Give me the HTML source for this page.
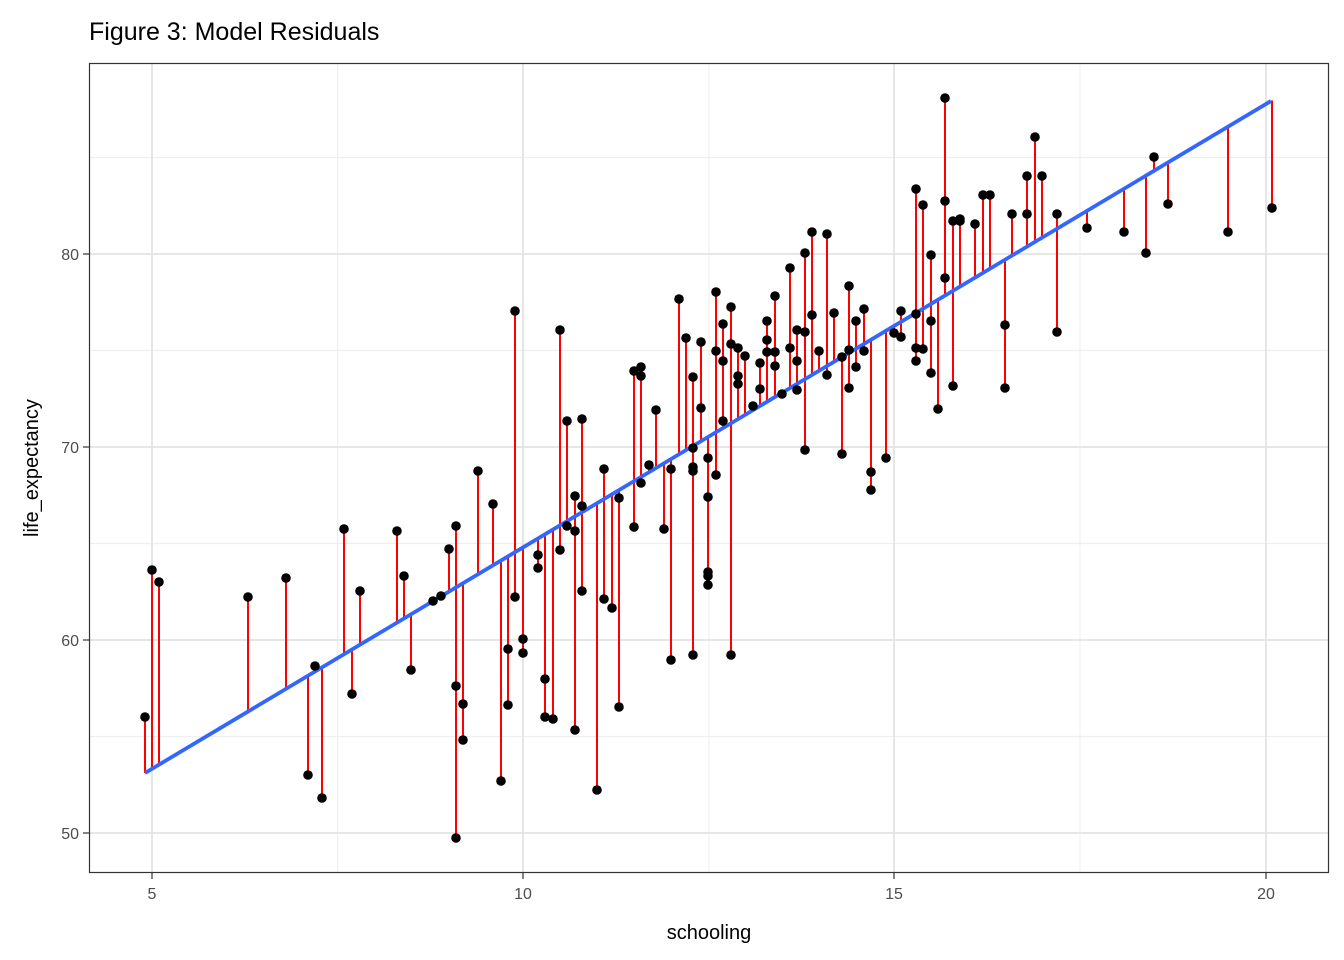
<!DOCTYPE html>
<html><head><meta charset="utf-8">
<style>
html,body{margin:0;padding:0;background:#fff;}
svg{display:block;font-family:"Liberation Sans",Arial,sans-serif;}
</style></head>
<body>
<svg id="s" width="1344" height="960" viewBox="0 0 1344 960" xmlns="http://www.w3.org/2000/svg">
<rect width="1344" height="960" fill="#fff"/>
<text x="89" y="40" font-size="25" fill="#000">Figure 3: Model Residuals</text>
<g id="grid"></g>
<g id="res"></g>
<line x1="145" y1="773" x2="1271" y2="101" stroke="#3366FF" stroke-width="3.8"/>
<g id="pts"></g>
<rect x="89.5" y="63.5" width="1239" height="809" fill="none" stroke="#333" stroke-width="1.2"/>
<g id="ticks" stroke="#333" stroke-width="1.2"></g>
<g font-size="16" fill="#4d4d4d">
<text x="152" y="899" text-anchor="middle">5</text>
<text x="523" y="899" text-anchor="middle">10</text>
<text x="894" y="899" text-anchor="middle">15</text>
<text x="1266" y="899" text-anchor="middle">20</text>
<text x="79" y="260" text-anchor="end">80</text>
<text x="79" y="453" text-anchor="end">70</text>
<text x="79" y="646" text-anchor="end">60</text>
<text x="79" y="839" text-anchor="end">50</text>
</g>
<text x="709" y="939" font-size="20" text-anchor="middle" fill="#000">schooling</text>
<text transform="translate(38,468) rotate(-90)" font-size="20" text-anchor="middle" fill="#000">life_expectancy</text>
</svg>
<script>
var NS="http://www.w3.org/2000/svg";
function el(p,t,a){var e=document.createElementNS(NS,t);for(var k in a)e.setAttribute(k,a[k]);p.appendChild(e);return e;}
var g=document.getElementById("grid");
[337.7,709,1080].forEach(function(x){el(g,"line",{x1:x,x2:x,y1:63,y2:873,stroke:"#efefef","stroke-width":1.2});});
[736.5,543.5,350.5,157.5].forEach(function(y){el(g,"line",{x1:89,x2:1329,y1:y,y2:y,stroke:"#efefef","stroke-width":1.2});});
[152,523,894,1266].forEach(function(x){el(g,"line",{x1:x,x2:x,y1:63,y2:873,stroke:"#e3e3e3","stroke-width":1.8});});
[254,447,640,833].forEach(function(y){el(g,"line",{x1:89,x2:1329,y1:y,y2:y,stroke:"#e3e3e3","stroke-width":1.8});});
var tk=document.getElementById("ticks");
[152,523,894,1266].forEach(function(x){el(tk,"line",{x1:x,x2:x,y1:873,y2:879});});
[254,447,640,833].forEach(function(y){el(tk,"line",{x1:83,x2:89,y1:y,y2:y});});
var P=[[145,717],[152,570],[159,582],[248,597],[286,578],[308,775],[315,666],[322,798],[344,529],[352,694],[360,591],[397,531],[404,576],[411,670],[433,601],[441,596],[449,549],[456,526],[456,686],[456,838],[463,704],[463,740],[478,471],[493,504],[501,781],[508,649],[508,705],[515,311],[515,597],[523,653],[523,639],[538,568],[538,555],[545,679],[545,717],[553,719],[560,330],[560,550],[567,421],[567,526],[575,496],[575,531],[575,730],[582,419],[582,591],[582,506],[597,790],[604,469],[604,599],[612,608],[619,498],[619,707],[634,371],[634,527],[641,367],[641,376],[641,483],[649,465],[656,410],[664,529],[671,660],[671,469],[679,299],[686,338],[693,377],[693,448],[693,467],[693,471],[693,655],[701,408],[701,342],[708,458],[708,497],[708,572],[708,576],[708,585],[716,292],[716,351],[716,475],[723,324],[723,361],[723,421],[731,307],[731,344],[731,655],[738,348],[738,376],[738,384],[745,356],[753,406],[760,363],[760,389],[767,321],[767,340],[767,352],[775,296],[775,352],[775,366],[782,394],[790,268],[790,348],[797,330],[797,361],[797,390],[805,253],[805,332],[805,450],[812,315],[812,232],[819,351],[827,234],[827,375],[834,313],[842,357],[842,454],[849,286],[849,350],[849,388],[856,321],[856,367],[864,351],[864,309],[871,472],[871,490],[886,458],[894,333],[901,311],[901,337],[916,189],[916,314],[916,348],[916,361],[923,205],[923,349],[931,255],[931,321],[931,373],[938,409],[945,98],[945,201],[945,278],[953,221],[953,386],[960,219],[960,221],[975,224],[983,195],[990,195],[1005,325],[1005,388],[1012,214],[1027,176],[1027,214],[1035,137],[1042,176],[1057,214],[1057,332],[1087,228],[1124,232],[1146,253],[1154,157],[1168,204],[1228,232],[1272,208]];
var r=document.getElementById("res"),pt=document.getElementById("pts");
P.forEach(function(p){var ly=773-0.5968*(p[0]-145);
el(r,"line",{x1:p[0],x2:p[0],y1:p[1],y2:ly,stroke:"#ff0000","stroke-width":2});
el(pt,"circle",{cx:p[0],cy:p[1],r:4.8,fill:"#000"});});
</script>
</body></html>
